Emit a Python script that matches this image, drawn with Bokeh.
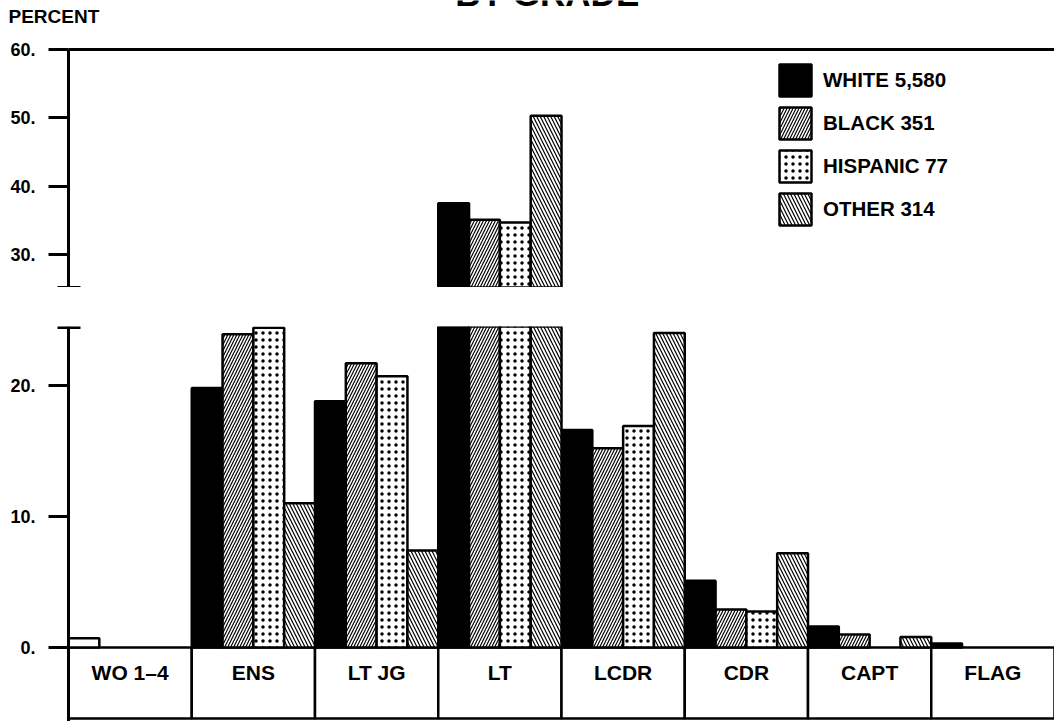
from bokeh.plotting import figure
from bokeh.layouts import column
from bokeh.models import (ColumnDataSource, FixedTicker, PrintfTickFormatter,
                          Legend, LegendItem, Range1d)
from bokeh.core.properties import value
from bokeh.embed import file_html
from bokeh.resources import INLINE

# ---------------- data ----------------
grades = ["WO 1–4", "ENS", "LT JG", "LT", "LCDR", "CDR", "CAPT", "FLAG"]
white_pct = [0.7, 19.8, 18.8, 37.5, 16.6, 5.1, 1.6, 0.3]
black_pct = [0.0, 23.9, 21.7, 35.1, 15.2, 2.9, 1.0, 0.0]
hispanic_pct = [0.0, 24.4, 20.7, 34.7, 16.9, 2.75, 0.0, 0.0]
other_pct = [0.0, 11.0, 7.4, 50.3, 24.0, 7.2, 0.8, 0.0]
series_labels = ["WHITE 5,580", "BLACK 351", "HISPANIC 77", "OTHER 314"]
upper_ticks = [30, 40, 50, 60]
lower_ticks = [0, 10, 20]
y_label = "PERCENT"
title_text = "BY GRADE"

# ---------------- layout ----------------
FONT = "Liberation Sans"
W = 1054
LEFT = 68                      # pixel position of the value axis
n = len(grades)
cw = (W - LEFT) / n            # pixels per grade
X0 = -LEFT / cw                # x range start so that the axis sits at x = 0
UP_LO, UP_HI = 25.2, 67.16
LO_LO, LO_HI = -5.65, 24.5
UP_H, LO_H, GAP = 287, 434, 39

series = [white_pct, black_pct, hispanic_pct, other_pct]
styles = [
    dict(),
    dict(hatch_pattern="/", hatch_scale=6, hatch_weight=1.2, hatch_color="black"),
    dict(hatch_pattern=".", hatch_scale=7, hatch_weight=3, hatch_color="black"),
    dict(hatch_pattern="\\", hatch_scale=7, hatch_weight=1.2, hatch_color="black"),
]


def make_fig(h, lo, hi, top_border):
    p = figure(width=W, height=h, x_range=Range1d(X0, n), y_range=Range1d(lo, hi),
               output_backend="svg", toolbar_location=None, x_axis_location=None,
               min_border_left=0, min_border_right=0, min_border_top=top_border,
               min_border_bottom=0)
    p.outline_line_color = None
    p.grid.visible = False
    p.background_fill_color = "white"
    p.border_fill_color = "white"
    ax = p.yaxis[0]
    ax.fixed_location = 0
    ax.axis_line_width = 3
    ax.major_tick_line_width = 3
    ax.minor_tick_line_width = 3
    ax.major_tick_out = 20
    ax.major_tick_in = 0
    ax.minor_tick_in = 12
    ax.minor_tick_out = 11
    ax.major_label_standoff = 13
    ax.formatter = PrintfTickFormatter(format="%d.")
    ax.major_label_text_font = FONT
    ax.major_label_text_font_size = "18px"
    ax.major_label_text_font_style = "bold"
    ax.major_label_text_color = "black"
    return p


upper = make_fig(UP_H, UP_LO, UP_HI, 0)
upper.yaxis[0].ticker = FixedTicker(ticks=upper_ticks, minor_ticks=[UP_LO + 0.05])
upper.yaxis[0].bounds = (UP_LO, max(upper_ticks))
# top rule of the chart at the highest tick
upper.segment(x0=[0], x1=[n], y0=[max(upper_ticks)], y1=[max(upper_ticks)],
              line_width=3, line_color="black")
# texts above the chart (title is cut by the top edge, as in the source)
px_per_unit = UP_H / (UP_HI - UP_LO)
upper.text(x=[(8 - LEFT) / cw], y=[UP_HI - 16 / px_per_unit], text=[y_label],
           text_font=value(FONT), text_font_size="19px", text_font_style="bold",
           text_align="left", text_baseline="alphabetic", text_color="black")
upper.text(x=[(547 - LEFT) / cw], y=[UP_HI - 1 / px_per_unit], text=[title_text],
           y_offset=-8,
           text_font=value(FONT), text_font_size="35px", text_font_style="bold",
           text_align="center", text_baseline="alphabetic", text_color="black")

lower = make_fig(LO_H, LO_LO, LO_HI, GAP)
lower.yaxis[0].ticker = FixedTicker(ticks=lower_ticks, minor_ticks=[LO_HI - 0.05])
lower.yaxis[0].bounds = (LO_LO, LO_HI)

# category boxes under the baseline
box_bottom = LO_LO + 0.23
lower.quad(left=list(range(n)), right=[i + 1 for i in range(n)], top=[0] * n,
           bottom=[box_bottom] * n, fill_color="white", line_color="black", line_width=2.5)
lower.text(x=[i + 0.5 for i in range(n)], y=[-1.9] * n, text=grades,
           text_font=value(FONT), text_font_size="21px", text_font_style="bold",
           text_align="center", text_baseline="middle", text_color="black")

bw = 1.0 / 4
legend_items = []
for j, (vals, st) in enumerate(zip(series, styles)):
    xs = [i + bw * (j + 0.5) for i in range(n)]
    idx = [i for i in range(n) if vals[i] > 0]
    fills = []
    for i in idx:
        if j == 0:
            fills.append("white" if grades[i].startswith("WO") else "black")
        else:
            fills.append("white")
    src_lo = ColumnDataSource(dict(x=[xs[i] for i in idx],
                                   top=[min(vals[i], LO_HI) for i in idx],
                                   fill=fills))
    lower.vbar(x="x", top="top", bottom=0, width=bw, source=src_lo, fill_color="fill",
               line_color="black", line_width=2.5, **st)
    idx_up = [i for i in range(n) if vals[i] > UP_LO]
    src_up = ColumnDataSource(dict(x=[xs[i] for i in idx_up], top=[vals[i] for i in idx_up]))
    r = upper.vbar(x="x", top="top", bottom=UP_LO, width=bw, source=src_up,
                   fill_color=("black" if j == 0 else "white"), line_color="black",
                   line_width=2.5, **st)
    legend_items.append(LegendItem(label=series_labels[j], renderers=[r]))

legend = Legend(items=legend_items, location=(775, 58), orientation="vertical",
                glyph_width=40, glyph_height=40, label_height=40, spacing=3,
                label_standoff=8, padding=0, margin=0, border_line_color=None,
                background_fill_alpha=0, label_text_font=FONT, label_text_font_size="20.5px",
                label_text_font_style="bold", label_text_color="black")
upper.add_layout(legend)

layout = column(upper, lower, spacing=0)
open("out.html", "w").write(file_html(layout, INLINE))
